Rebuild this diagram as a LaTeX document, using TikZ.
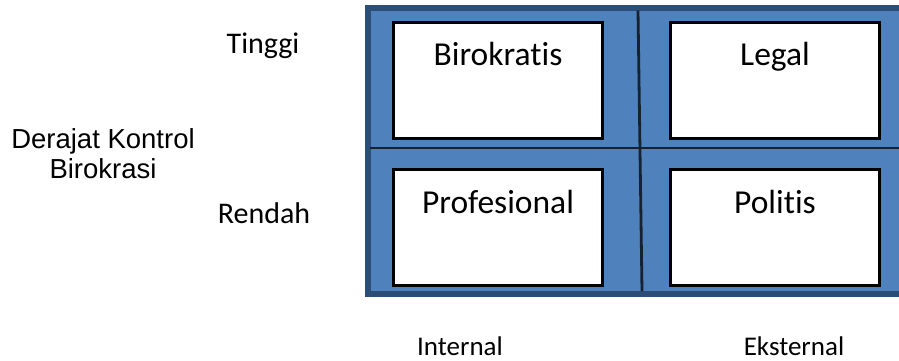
\documentclass[tikz,border=0pt]{standalone}
\usepackage{fontspec}
\setmainfont{Carlito}[RawFeature={-liga}]
\newfontfamily\arialf{Liberation Sans}
\definecolor{cellblue}{HTML}{4F81BD}
\definecolor{rimblue}{HTML}{2C4D75}
\definecolor{divline}{HTML}{16222F}
\begin{document}
\begin{tikzpicture}[x=1pt,y=-1pt,
  cellbox/.style={draw=black,line width=2.4pt,fill=white,minimum width=209pt,minimum height=116pt,inner sep=0pt},
  celltitle/.style={anchor=base,inner sep=0pt,font=\fontsize{33.5}{40}\selectfont},
  sidelabel/.style={anchor=base,inner sep=0pt,font=\fontsize{30}{36}\selectfont},
  axislabel/.style={anchor=base,inner sep=0pt,font=\fontsize{27}{32}\selectfont}]
\useasboundingbox (0,0) rectangle (899,360);
\fill[white] (0,0) rectangle (899,360);
% outer blue panel
\draw[fill=cellblue,draw=rimblue,line width=5.5pt] (368,7.8) rectangle (910,294);
% dividers
\draw[divline,line width=2.8pt] (638,10.5) -- (642,291);
\draw[divline,line width=2.8pt] (370,148) -- (905,148);
% boxes
\node[cellbox] (bk) at (498,80.5) {};
\node[cellbox] (lg) at (775,80.5) {};
\node[cellbox] (pf) at (498,227.5) {};
\node[cellbox] (pl) at (775,227.5) {};
\node[celltitle] (tbk) at (498,65) {Birokratis};
\node[celltitle] (tlg) at (775,65) {Legal};
\node[celltitle] (tpf) at (498,213) {Profesional};
\node[celltitle] (tpl) at (775,213) {Politis};
% side labels
\node[sidelabel] (hi) at (263,53) {Tinggi};
\node[sidelabel] (lo) at (264,223) {Rendah};
\node[anchor=base,inner sep=0pt,font=\arialf\fontsize{27.5}{30}\selectfont] (dk1) at (103,148) {Derajat Kontrol};
\node[anchor=base,inner sep=0pt,font=\arialf\fontsize{27.5}{30}\selectfont] (dk2) at (103,178) {Birokrasi};
% axis labels
\node[axislabel] (in) at (460,355) {Internal};
\node[axislabel] (ex) at (794,355) {Eksternal};
\end{tikzpicture}
\end{document}
